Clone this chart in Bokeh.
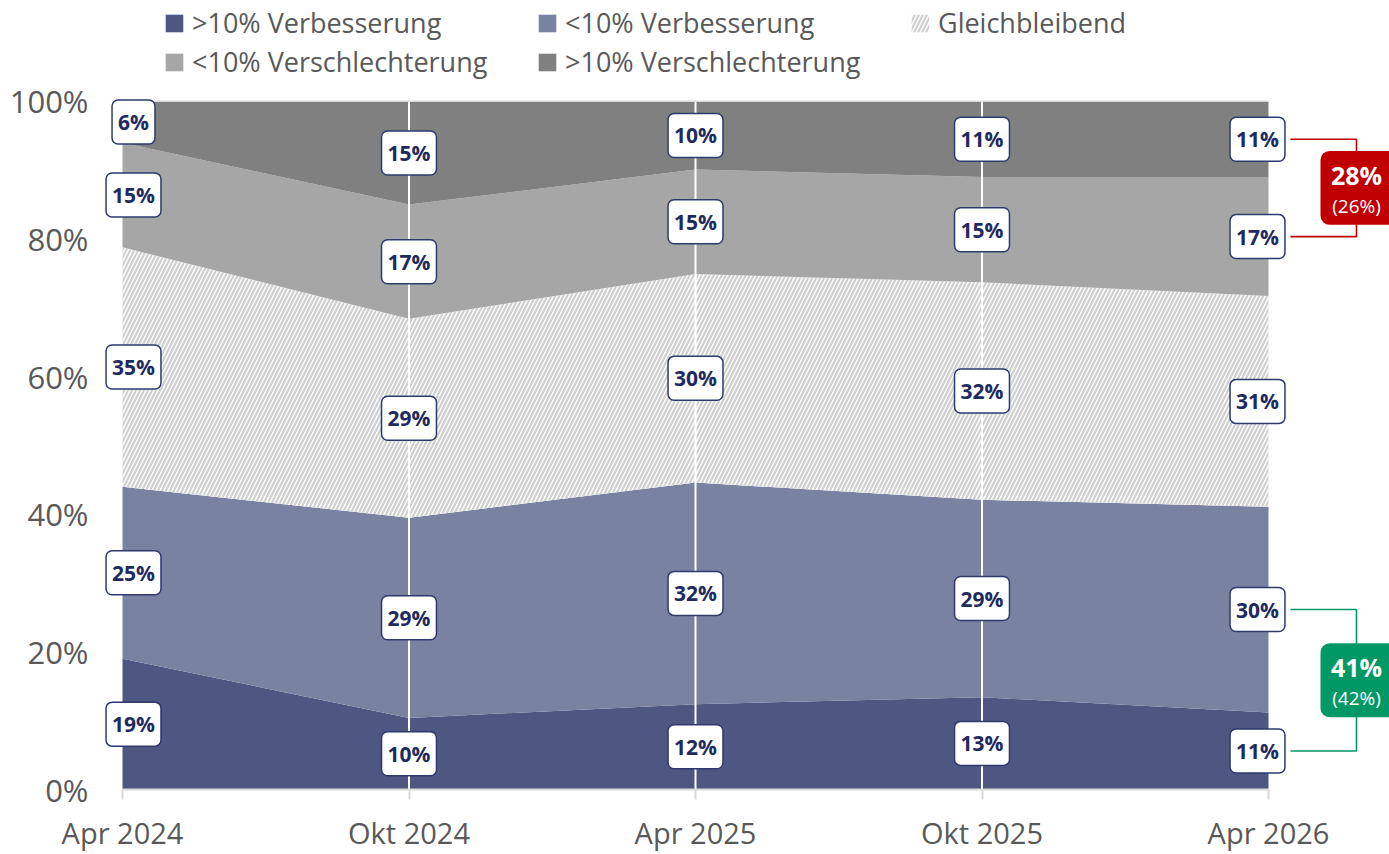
import numpy as np
from bokeh.plotting import figure
from bokeh.models import (ColumnDataSource, Legend, LegendItem,
                          Range1d, FixedTicker, PrintfTickFormatter)
from bokeh.embed import file_html
from bokeh.resources import INLINE
from bokeh.core.properties import value

# ---------------- data ----------------
periods = ["Apr 2024", "Okt 2024", "Apr 2025", "Okt 2025", "Apr 2026"]
series_names = [">10% Verbesserung", "<10% Verbesserung", "Gleichbleibend",
                "<10% Verschlechterung", ">10% Verschlechterung"]
verb_gross = [19.0, 10.4, 12.4, 13.4, 11.2]
verb_klein = [25.0, 29.1, 32.2, 28.7, 29.9]
gleich = [34.8, 28.9, 30.3, 31.6, 30.6]
versch_klein = [15.2, 16.6, 15.2, 15.3, 17.3]
versch_gross = [6.0, 15.0, 9.9, 11.0, 11.0]
y_ticks = [0, 20, 40, 60, 80, 100]

series = [verb_gross, verb_klein, gleich, versch_klein, versch_gross]
colors = ["#4e5782", "#7a82a2", "#ffffff", "#a6a6a6", "#808080"]

FONT = "Open Sans"
GREY_TXT = "#595959"
NAVY = "#1f2a5e"

# ---------------- layout ----------------
W, H = 1389, 854
FL, FB = 100, 64                   # borders
TOP100 = 101                       # pixel row of the 100% line
X0 = 122                           # pixel where first category sits
n = len(periods)
last = n - 1
px_x = 1146 / last                 # pixels per x unit
px_y = (H - TOP100 - FB) / 100.0   # pixels per y unit
x_start = -(X0 - FL) / px_x
x_end = (W - X0) / px_x
y_end = y_ticks[-1] + TOP100 / px_y   # frame reaches canvas top (room for legend)

p = figure(width=W, height=H, x_range=Range1d(x_start, x_end),
           y_range=Range1d(0, y_end),
           min_border_left=FL, min_border_right=0, min_border_top=0,
           min_border_bottom=FB, output_backend="svg", toolbar_location=None)
p.outline_line_color = None
p.grid.visible = False
p.background_fill_color = "white"

xs = np.arange(n)
vals = np.array(series, dtype=float)
tops = np.cumsum(vals, axis=0)
bots = tops - vals

renderers = []
for i in range(len(series)):
    kw = dict(fill_color=colors[i])
    if i == 2:
        kw.update(hatch_pattern="/", hatch_color="#d0d0d0", hatch_weight=2.2,
                  hatch_scale=8)
    r = p.varea(x=xs, y1=bots[i], y2=tops[i], **kw)
    renderers.append(r)

# white vertical grid lines at inner categories
inner = list(range(1, last))
p.segment(x0=inner, x1=inner, y0=y_ticks[0], y1=y_ticks[-1],
          line_color="white", line_width=2)
p.segment(x0=[0], x1=[last], y0=[y_ticks[-1]], y1=[y_ticks[-1]],
          line_color="#d9d9d9", line_width=1.5)

# ---------------- axes ----------------
p.xaxis.ticker = FixedTicker(ticks=list(xs))
p.xaxis.major_label_overrides = {int(i): periods[i] for i in range(n)}
p.xaxis.bounds = (0, last)
p.xaxis.axis_line_color = "#d9d9d9"
p.xaxis.axis_line_width = 2
p.xaxis.major_tick_line_color = "#d9d9d9"
p.xaxis.major_tick_line_width = 2
p.xaxis.major_tick_out = 10
p.xaxis.major_tick_in = 0
p.xaxis.minor_tick_line_color = None
p.xaxis.major_label_standoff = 13
p.xaxis.major_label_text_font = FONT
p.xaxis.major_label_text_font_size = "29px"
p.xaxis.major_label_text_color = GREY_TXT

p.yaxis.ticker = FixedTicker(ticks=y_ticks)
p.yaxis.formatter = PrintfTickFormatter(format="%d%%")
p.yaxis.axis_line_color = None
p.yaxis.major_tick_line_color = None
p.yaxis.minor_tick_line_color = None
p.yaxis.major_tick_out = 0
p.yaxis.major_tick_in = 0
p.yaxis.major_label_standoff = 12
p.yaxis.major_label_text_font = FONT
p.yaxis.major_label_text_font_size = "31px"
p.yaxis.major_label_text_color = GREY_TXT

# ---------------- data labels ----------------
lx, ly, lt, lo = [], [], [], []
for i in range(len(series)):
    for j in range(n):
        lx.append(j)
        ly.append((bots[i, j] + tops[i, j]) / 2)
        lt.append(f"{int(round(vals[i, j]))}%")
        lo.append(11 if j == 0 else (-11 if j == last else 0))
lsrc = ColumnDataSource(dict(x=lx, y=ly, text=lt, xoff=lo))
p.text(x="x", y="y", text="text", x_offset="xoff", source=lsrc,
       text_align="center", text_baseline="middle",
       text_font=value(FONT), text_font_size="21px",
       text_font_style="bold", text_color=NAVY,
       background_fill_color="white", border_line_color="#2e3a6e",
       border_line_width=1.5, padding=dict(x=6, y=8), border_radius=6)

# ---------------- callouts ----------------
def callout(i_top, i_bot, color):
    y_a = (bots[i_top, last] + tops[i_top, last]) / 2
    y_b = (bots[i_bot, last] + tops[i_bot, last]) / 2
    a = last + 22 / px_x
    b = last + 88 / px_x
    p.line(x=[a, b, b, a], y=[y_a, y_a, y_b, y_b], line_color=color, line_width=1.6)
    yc = (y_a + y_b) / 2
    hh = 37 / px_y
    p.quad(left=[last + 52 / px_x], right=[x_end + 0.1], top=[yc + hh],
           bottom=[yc - hh], fill_color=color, line_color=None, border_radius=9)
    cur = int(round(vals[i_top, last])) + int(round(vals[i_bot, last]))
    prev = int(round(vals[i_top, last - 1])) + int(round(vals[i_bot, last - 1]))
    p.text(x=[b], y=[yc], text=[f"{cur}%"], y_offset=-13, text_align="center",
           text_baseline="middle", text_font=value(FONT), text_font_size="25px",
           text_font_style="bold", text_color="white")
    p.text(x=[b], y=[yc], text=[f"({prev}%)"], y_offset=18, text_align="center",
           text_baseline="middle", text_font=value(FONT), text_font_size="19px",
           text_color="white")

callout(4, 3, "#c00000")
callout(1, 0, "#009966")

# ---------------- legend ----------------
items = [LegendItem(label=series_names[i], renderers=[renderers[i]])
         for i in range(len(series))]
legend = Legend(items=items, ncols=3, orientation="horizontal",
                location=(63, 709), label_text_font=FONT,
                label_text_font_size="27px", label_text_color=GREY_TXT,
                glyph_width=22, glyph_height=22, label_standoff=7,
                label_width=342, spacing=2, padding=0, margin=0,
                border_line_color=None, background_fill_alpha=0)
p.add_layout(legend)

open("out.html", "w").write(file_html(p, INLINE))
